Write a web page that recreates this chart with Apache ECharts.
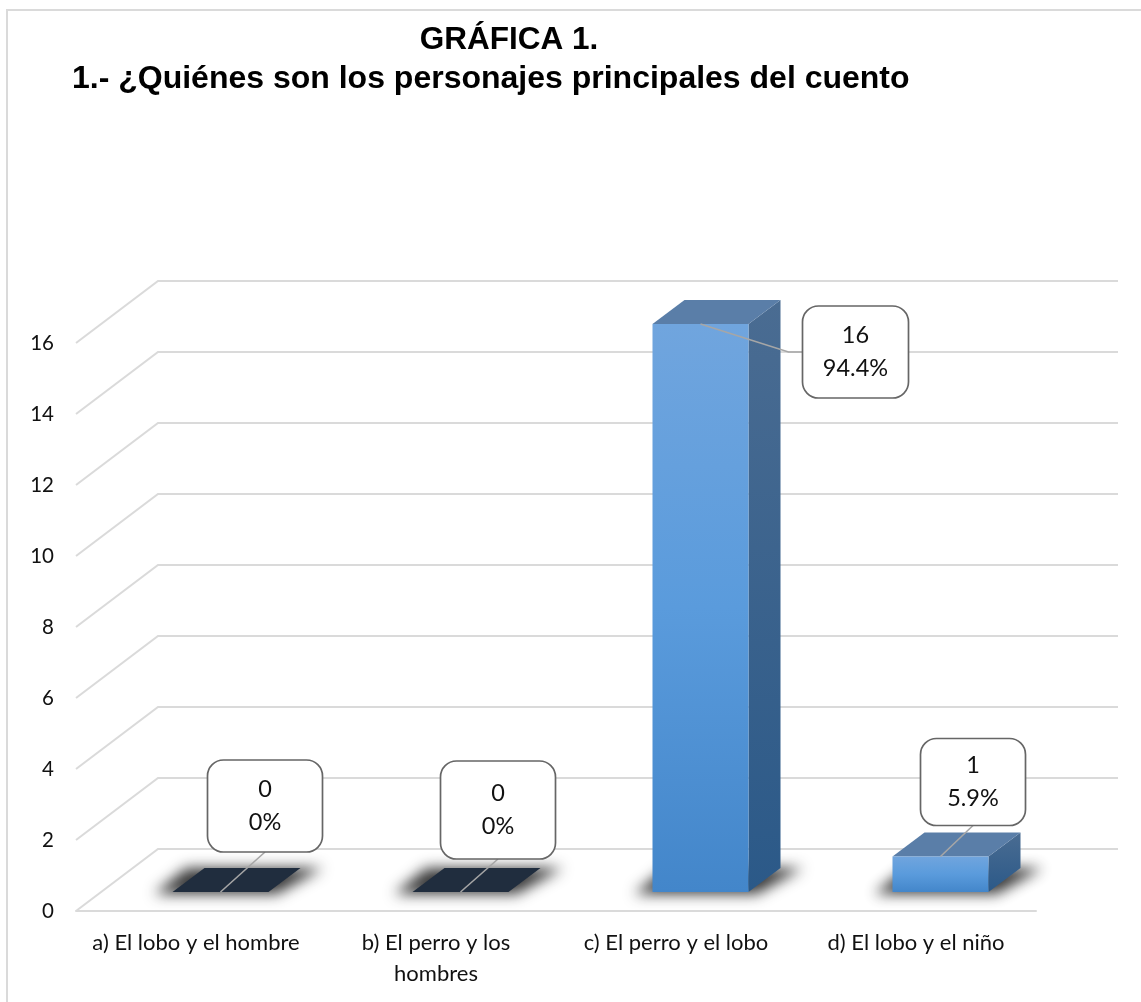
<!DOCTYPE html>
<html>
<head>
<meta charset="utf-8">
<style>html,body{margin:0;padding:0;background:#fff}#c{width:1141px;height:1002px}</style>
<script src="https://cdn.jsdelivr.net/npm/echarts@6/dist/echarts.min.js"></script>
</head>
<body>
<div id="c"></div>
<script>
var titleLine1 = 'GRÁFICA 1.';
var titleLine2 = '1.- ¿Quiénes son los personajes principales del cuento';
var categories = ['a) El lobo y el hombre', 'b) El perro y los\nhombres', 'c) El perro y el lobo', 'd) El lobo y el niño'];
var values = [0, 0, 16, 1];
var percents = ['0%', '0%', '94.4%', '5.9%'];
var yTicks = [0, 2, 4, 6, 8, 10, 12, 14, 16];

// 3D projection layout (pixels)
var WALL_DX = 82, WALL_DY = -62;
var BAR_W = 96, BAR_OX = 24.5, BAR_OY = -19, DEPTH_DX = 32, DEPTH_DY = -24;
var OFF = 3000; // shadow-only shapes are drawn off-canvas, their blur offset back
// callout box: offset of box from the bar's anchor [left, top, width, height]
var callouts = [
  {box: [-13, -132, 115, 92], from: 'base'},
  {box: [-20, -131, 115, 98], from: 'base'},
  {box: [102, -18, 106, 92], from: 'top', elbow: true},
  {box: [-20, -118, 105, 87], from: 'top'}
];

var chart = echarts.init(document.getElementById('c'), null, {renderer: 'canvas'});

function wallItem(params, api) {
  var p = api.coord([0, api.value(0)]);
  var size = api.size([1, 0]);
  var x0 = p[0] - size[0] / 2;
  var x1 = x0 + size[0] * categories.length;
  var y = p[1];
  return {
    type: 'polyline',
    silent: true,
    shape: {points: [[x0, y], [x0 + WALL_DX, y + WALL_DY], [x1 + WALL_DX, y + WALL_DY]]},
    style: {stroke: '#dadada', lineWidth: 2, fill: null}
  };
}

function barItem(params, api) {
  var idx = api.value(0), val = api.value(1);
  var base = api.coord([idx, 0]), top = api.coord([idx, val]);
  var cx = base[0] + BAR_OX;
  var L = cx - BAR_W / 2, R = cx + BAR_W / 2;
  var yb = base[1] + BAR_OY, yt = top[1] + BAR_OY;
  var dx = DEPTH_DX, dy = DEPTH_DY;
  var children = [];
  // floor shadow: blur only, no crisp edge
  var sh = [[L - 18 - OFF, yb + 2], [R + 8 - OFF, yb + 2], [R + dx + 22 - OFF, yb + dy], [L + dx - 18 - OFF, yb + dy]];
  children.push({type: 'polygon', shape: {points: sh},
    style: {fill: '#000', shadowBlur: 14, shadowOffsetX: OFF, shadowColor: 'rgba(45,45,45,0.95)'}});
  if (val > 0) {
    children.push({type: 'polygon', shape: {points: [[R, yb], [R + dx, yb + dy], [R + dx, yt + dy], [R, yt]]},
      style: {fill: new echarts.graphic.LinearGradient(0, 0, 0, 1, [{offset: 0, color: '#4a6c92'}, {offset: 1, color: '#2b5988'}])}});
    children.push({type: 'polygon', shape: {points: [[L, yt], [R, yt], [R + dx, yt + dy], [L + dx, yt + dy]]},
      style: {fill: '#5a7ea8'}});
    children.push({type: 'rect', shape: {x: L, y: yt, width: BAR_W, height: yb - yt},
      style: {fill: new echarts.graphic.LinearGradient(0, 0, 0, 1, [{offset: 0, color: '#70a5de'}, {offset: 0.5, color: '#5a9bdc'}, {offset: 1, color: '#4386ca'}])}});
  } else {
    children.push({type: 'polygon', shape: {points: [[L, yb], [R, yb], [R + dx, yb + dy], [L + dx, yb + dy]]},
      style: {fill: '#202d3e'}});
  }
  // callout
  var c = callouts[idx];
  var ax = cx, ay = c.from === 'base' ? yb : yt;
  var bx = ax + c.box[0], by = ay + c.box[1], bw = c.box[2], bh = c.box[3];
  var pts = c.elbow
    ? [[ax, ay], [bx - 14, by + bh / 2], [bx, by + bh / 2]]
    : [[ax, ay], [bx + bw / 2, by + bh]];
  children.push({type: 'polyline', shape: {points: pts}, style: {stroke: '#a6a6a6', lineWidth: 1.6, fill: null}});
  children.push({type: 'rect', shape: {x: bx, y: by, width: bw, height: bh, r: 16},
    style: {fill: '#fff', stroke: '#666', lineWidth: 1.7}});
  children.push({type: 'text', style: {
    x: bx + bw / 2, y: by + bh / 2,
    text: val + '\n' + percents[idx],
    fill: '#111', font: '23.5px Lato', align: 'center', verticalAlign: 'middle', lineHeight: 33
  }});
  return {type: 'group', children: children};
}

chart.setOption({
  animation: false,
  backgroundColor: '#fff',
  title: [
    {text: titleLine1, left: 504, top: 19, textAlign: 'center',
     textStyle: {fontFamily: 'Liberation Sans', fontWeight: 'bold', fontSize: 31.5, color: '#000'}},
    {text: titleLine2, left: 67, top: 58,
     textStyle: {fontFamily: 'Liberation Sans', fontWeight: 'bold', fontSize: 32, color: '#000'}}
  ],
  graphic: [{
    type: 'polyline', silent: true, z: -10,
    shape: {points: [[7, 1002], [7, 10], [1141, 10]]},
    style: {stroke: '#dadada', lineWidth: 2, fill: null}
  }],
  grid: {left: 76, right: 105, top: 343, height: 568, containLabel: false},
  xAxis: {
    type: 'category', data: categories,
    axisTick: {show: false},
    axisLine: {show: true, lineStyle: {color: '#dadada', width: 2}},
    axisLabel: {interval: 0, color: '#111', fontFamily: 'Lato', fontSize: 22, lineHeight: 31, margin: 16}
  },
  yAxis: {
    type: 'value', min: 0, max: 16, interval: 2,
    axisLine: {show: false}, axisTick: {show: false}, splitLine: {show: false},
    axisLabel: {color: '#111', fontFamily: 'Lato', fontSize: 20.5, margin: 22, padding: [4, 0, 0, 0]}
  },
  series: [
    {type: 'custom', coordinateSystem: 'cartesian2d', renderItem: wallItem, z: 1, silent: true,
     encode: {y: 0}, data: yTicks.map(function (t) { return [t]; })},
    {type: 'custom', coordinateSystem: 'cartesian2d', renderItem: barItem, z: 2, silent: true,
     encode: {x: 0, y: 1}, data: values.map(function (v, i) { return [i, v]; })}
  ]
});
</script>
</body>
</html>
